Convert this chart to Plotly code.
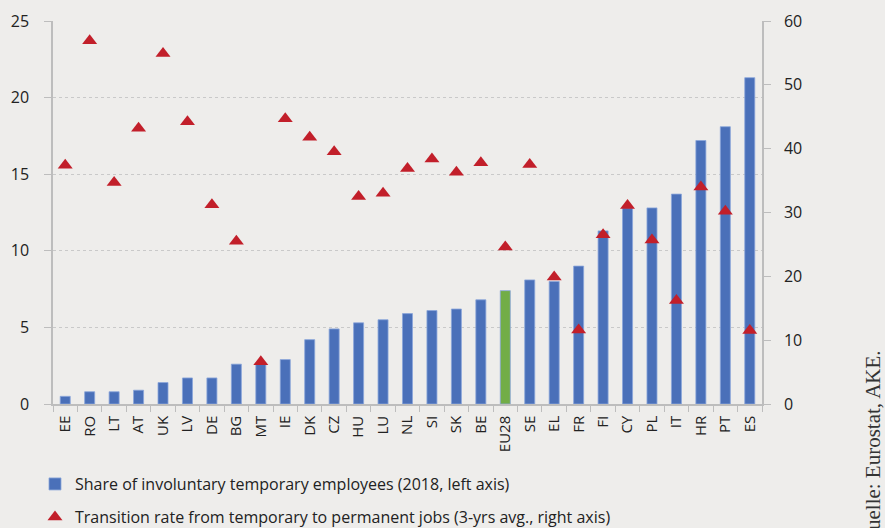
import plotly.graph_objects as go

countries = ["EE", "RO", "LT", "AT", "UK", "LV", "DE", "BG", "MT", "IE", "DK", "CZ", "HU", "LU",
             "NL", "SI", "SK", "BE", "EU28", "SE", "EL", "FR", "FI", "CY", "PL", "IT", "HR", "PT", "ES"]
share_involuntary = [0.5, 0.8, 0.8, 0.9, 1.4, 1.7, 1.7, 2.6, 2.7, 2.9, 4.2, 4.9, 5.3, 5.5,
                     5.9, 6.1, 6.2, 6.8, 7.4, 8.1, 8.0, 9.0, 11.3, 12.8, 12.8, 13.7, 17.2, 18.1, 21.3]
transition_rate = [37.4, 56.9, 34.7, 43.2, 54.9, 44.2, 31.2, 25.5, 6.6, 44.7, 41.8, 39.5, 32.5, 33.0,
                   36.9, 38.4, 36.3, 37.8, 24.6, 37.5, 19.9, 11.6, 26.5, 31.1, 25.7, 16.2, 34.0, 30.2, 11.5]
left_ticks = [0, 5, 10, 15, 20, 25]
right_ticks = [0, 10, 20, 30, 40, 50, 60]

BLUE = "#4A70B9"
GREEN = "#72AD47"
RED = "#C21F2A"
BG = "#EEEDEB"
AX = "#BDBDBD"
TXT = "#222222"
FONT = "Open Sans"

bar_colors = [GREEN if c == "EU28" else BLUE for c in countries]

fig = go.Figure()
fig.add_trace(go.Bar(
    x=countries, y=share_involuntary,
    marker=dict(color=bar_colors, line=dict(color="#8AA6DA", width=0.8)),
    name="Share of involuntary temporary employees (2018, left axis)",
    legend="legend",
))
fig.add_trace(go.Scatter(
    x=countries, y=transition_rate, yaxis="y2", mode="markers",
    marker=dict(symbol="triangle-up", size=13, color=RED, line=dict(width=0)),
    name="Transition rate from temporary to permanent jobs (3-yrs avg., right axis)",
    legend="legend2",
))

fig.update_layout(
    width=885, height=528,
    margin=dict(l=53, r=123, t=21, b=124, autoexpand=False),
    paper_bgcolor=BG, plot_bgcolor=BG,
    font=dict(family=FONT, color=TXT, size=16),
    bargap=0.59,
    xaxis=dict(
        type="category", range=[-0.5, len(countries) - 0.5],
        showline=True, linecolor=AX, linewidth=1.5,
        ticks="outside", tickson="boundaries", ticklen=6, tickcolor=AX, tickwidth=1,
        tickangle=-90, tickfont=dict(size=15, family=FONT, color=TXT),
        showgrid=False, ticklabelstandoff=4,
    ),
    yaxis=dict(
        range=[0, 25], tickvals=left_ticks,
        showline=True, linecolor=AX, linewidth=1.5,
        ticks="outside", ticklen=7, tickcolor=AX,
        showgrid=True, gridcolor="#C9C9C9", griddash="dot", gridwidth=1,
        zeroline=False, tickfont=dict(size=16, family=FONT, color=TXT),
        ticklabelstandoff=12,
    ),
    yaxis2=dict(
        range=[0, 60], tickvals=right_ticks, overlaying="y", side="right",
        showline=True, linecolor=AX, linewidth=1.5,
        ticks="outside", ticklen=7, tickcolor=AX,
        showgrid=False, zeroline=False,
        tickfont=dict(size=16, family=FONT, color=TXT),
        ticklabelstandoff=10,
    ),
    legend=dict(
        x=-0.0254, xanchor="left", y=-0.209, yanchor="middle",
        bgcolor="rgba(0,0,0,0)", font=dict(size=16, family=FONT, color=TXT),
    ),
    legend2=dict(
        x=-0.0254, xanchor="left", y=-0.295, yanchor="middle",
        bgcolor="rgba(0,0,0,0)", font=dict(size=16, family=FONT, color=TXT),
    ),
    showlegend=True,
)

fig.add_annotation(
    text="Quelle: Eurostat, AKE.", textangle=-90,
    xref="paper", yref="paper", x=1.156, y=0.146,
    xanchor="center", yanchor="top", showarrow=False,
    font=dict(family="Liberation Serif", size=21, color="#333333"),
)

fig.write_html(
    "out.html",
    config={"displayModeBar": False},
    post_script="document.body.style.margin='0';document.body.style.overflow='hidden';"
                "document.body.style.background='" + BG + "';",
)
